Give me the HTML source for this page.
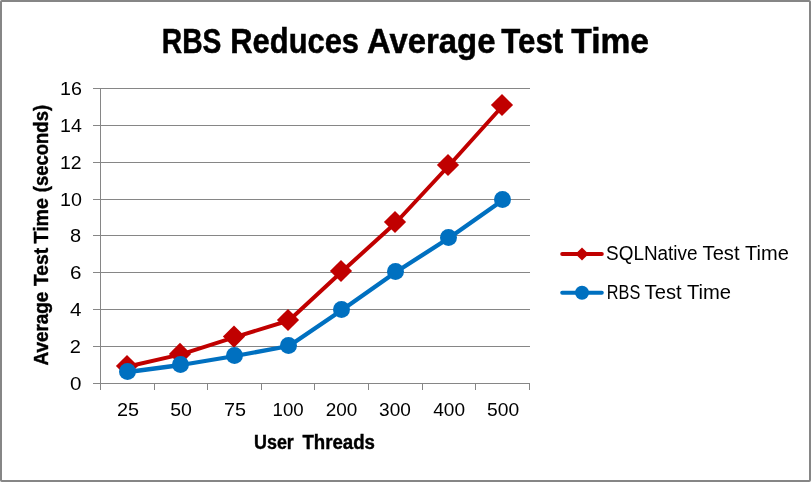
<!DOCTYPE html>
<html lang="en"><head><meta charset="utf-8"><title>RBS Reduces Average Test Time</title>
<style>
html,body{margin:0;padding:0;background:#fff}
body{width:811px;height:482px;overflow:hidden}
svg{display:block}
text{font-family:"Liberation Sans",sans-serif;fill:#000}
</style></head><body>
<svg xmlns="http://www.w3.org/2000/svg" width="811" height="482" viewBox="0 0 811 482">
<rect x="0" y="0" width="811" height="482" fill="#fff"/>
<rect x="1" y="1" width="809" height="480" rx="0.8" fill="none" stroke="#868686" stroke-width="2"/>
<g fill="#868686" shape-rendering="crispEdges">
<rect x="93" y="88" width="437" height="1"/>
<rect x="93" y="125" width="437" height="1"/>
<rect x="93" y="162" width="437" height="1"/>
<rect x="93" y="199" width="437" height="1"/>
<rect x="93" y="235" width="437" height="1"/>
<rect x="93" y="272" width="437" height="1"/>
<rect x="93" y="309" width="437" height="1"/>
<rect x="93" y="346" width="437" height="1"/>
<rect x="93" y="383" width="437" height="1"/>
<rect x="100" y="88" width="1" height="302"/>
<rect x="154" y="383" width="1" height="7"/>
<rect x="207" y="383" width="1" height="7"/>
<rect x="261" y="383" width="1" height="7"/>
<rect x="314" y="383" width="1" height="7"/>
<rect x="368" y="383" width="1" height="7"/>
<rect x="422" y="383" width="1" height="7"/>
<rect x="475" y="383" width="1" height="7"/>
<rect x="529" y="383" width="1" height="7"/>
</g>
<polyline fill="none" stroke="#C00000" stroke-width="4.0" stroke-linejoin="round" stroke-linecap="round" points="128.0,366.5 181.0,354.4 235.0,337.1 289.0,320.5 342.0,271.5 396.0,222.5 449.0,165.5 503.0,105.5"/>
<g fill="#C00000"><path d="M127 354.9L138.1 366L127 377.1L115.9 366Z"/><path d="M180 342.8L191.1 353.9L180 365.0L168.9 353.9Z"/><path d="M234 325.5L245.1 336.6L234 347.7L222.9 336.6Z"/><path d="M288 308.9L299.1 320L288 331.1L276.9 320Z"/><path d="M341 259.9L352.1 271L341 282.1L329.9 271Z"/><path d="M395 210.9L406.1 222L395 233.1L383.9 222Z"/><path d="M448 153.9L459.1 165L448 176.1L436.9 165Z"/><path d="M502 93.9L513.1 105L502 116.1L490.9 105Z"/></g>
<polyline fill="none" stroke="#0070C0" stroke-width="4.3" stroke-linejoin="round" stroke-linecap="round" points="128.0,372.0 181.0,365.0 235.0,356.0 289.0,346.0 342.0,310.0 396.0,272.0 449.0,238.0 503.0,200.0"/>
<g fill="#0070C0"><circle cx="127.5" cy="371.5" r="8.5"/><circle cx="180.5" cy="364.5" r="8.5"/><circle cx="234.5" cy="355.5" r="8.5"/><circle cx="288.5" cy="345.5" r="8.5"/><circle cx="341.5" cy="309.5" r="8.5"/><circle cx="395.5" cy="271.5" r="8.5"/><circle cx="448.5" cy="237.5" r="8.5"/><circle cx="502.5" cy="199.5" r="8.5"/></g>
<g stroke-width="4" stroke-linecap="round" fill="none"><line x1="562.2" y1="254" x2="601.8" y2="254" stroke="#C00000"/><line x1="562.2" y1="292.8" x2="601.8" y2="292.8" stroke="#0070C0"/></g>
<g fill="#C00000"><path d="M582 247.4L588.6 254L582 260.6L575.4 254Z"/></g><circle cx="582" cy="292.8" r="7" fill="#0070C0"/>
<g>
<text y="52.6" font-size="34.3" font-weight="bold" stroke="#000" stroke-width="0.5"><tspan x="161.77" textLength="59.60" lengthAdjust="spacingAndGlyphs">RBS</tspan> <tspan x="230.29" textLength="128.75" lengthAdjust="spacingAndGlyphs">Reduces</tspan> <tspan x="366.98" textLength="128.46" lengthAdjust="spacingAndGlyphs">Average</tspan> <tspan x="501.29" textLength="61.89" lengthAdjust="spacingAndGlyphs">Test</tspan> <tspan x="571.26" textLength="77.74" lengthAdjust="spacingAndGlyphs">Time</tspan></text>
<text y="448.6" font-size="19.4" font-weight="bold" stroke="#000" stroke-width="0.4"><tspan x="254.03" textLength="39.82" lengthAdjust="spacingAndGlyphs">User</tspan> <tspan x="302.41" textLength="72.54" lengthAdjust="spacingAndGlyphs">Threads</tspan></text>
<text y="0" font-size="19.6" font-weight="bold" stroke="#000" stroke-width="0.4" transform="translate(48.2,0) rotate(-90)"><tspan x="-365.47" textLength="73.73" lengthAdjust="spacingAndGlyphs">Average</tspan> <tspan x="-286.09" textLength="38.22" lengthAdjust="spacingAndGlyphs">Test</tspan> <tspan x="-243.50" textLength="45.50" lengthAdjust="spacingAndGlyphs">Time</tspan> <tspan x="-192.22" textLength="87.32" lengthAdjust="spacingAndGlyphs">(seconds)</tspan></text>
<text y="259.7" font-size="19.6"><tspan x="606.05" textLength="91.51" lengthAdjust="spacingAndGlyphs">SQLNative</tspan> <tspan x="702.60" textLength="36.88" lengthAdjust="spacingAndGlyphs">Test</tspan> <tspan x="745.00" textLength="43.80" lengthAdjust="spacingAndGlyphs">Time</tspan></text>
<text y="298.5" font-size="19.6"><tspan x="606.80" textLength="33.45" lengthAdjust="spacingAndGlyphs">RBS</tspan> <tspan x="644.60" textLength="36.99" lengthAdjust="spacingAndGlyphs">Test</tspan> <tspan x="687.00" textLength="44.11" lengthAdjust="spacingAndGlyphs">Time</tspan></text>
<text y="416.2" font-size="18.9"><tspan x="116.91" textLength="22.03" lengthAdjust="spacingAndGlyphs">25</tspan> <tspan x="170.22" textLength="21.71" lengthAdjust="spacingAndGlyphs">50</tspan> <tspan x="223.91" textLength="22.03" lengthAdjust="spacingAndGlyphs">75</tspan> <tspan x="272.60" textLength="31.12" lengthAdjust="spacingAndGlyphs">100</tspan> <tspan x="325.75" textLength="31.58" lengthAdjust="spacingAndGlyphs">200</tspan> <tspan x="379.04" textLength="31.80" lengthAdjust="spacingAndGlyphs">300</tspan> <tspan x="433.22" textLength="31.81" lengthAdjust="spacingAndGlyphs">400</tspan> <tspan x="487.03" textLength="32.11" lengthAdjust="spacingAndGlyphs">500</tspan></text>
<text y="95.2" font-size="18.9"><tspan x="60.12" textLength="21.91" lengthAdjust="spacingAndGlyphs">16</tspan></text>
<text y="132.2" font-size="18.9"><tspan x="60.03" textLength="21.81" lengthAdjust="spacingAndGlyphs">14</tspan></text>
<text y="169.2" font-size="18.9"><tspan x="60.05" textLength="21.57" lengthAdjust="spacingAndGlyphs">12</tspan></text>
<text y="206.2" font-size="18.9"><tspan x="60.02" textLength="21.91" lengthAdjust="spacingAndGlyphs">10</tspan></text>
<text y="242.2" font-size="18.9"><tspan x="70.10" textLength="11.12" lengthAdjust="spacingAndGlyphs">8</tspan></text>
<text y="279.2" font-size="18.9"><tspan x="69.97" textLength="11.49" lengthAdjust="spacingAndGlyphs">6</tspan></text>
<text y="316.2" font-size="18.9"><tspan x="69.98" textLength="11.46" lengthAdjust="spacingAndGlyphs">4</tspan></text>
<text y="353.2" font-size="18.9"><tspan x="69.80" textLength="11.12" lengthAdjust="spacingAndGlyphs">2</tspan></text>
<text y="390.2" font-size="18.9"><tspan x="69.97" textLength="11.47" lengthAdjust="spacingAndGlyphs">0</tspan></text>
</g>
</svg>
</body></html>
